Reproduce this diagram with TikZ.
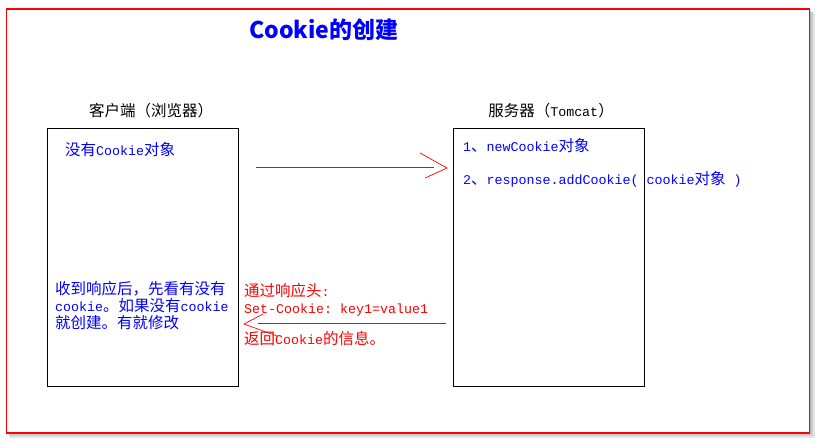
\documentclass[tikz,border=0pt]{standalone}
\usepackage{fontspec}
\setmainfont{Liberation Mono}
\newfontfamily\cjk{Noto Sans CJK SC}
\newcommand{\zh}[1]{{\fontsize{15.5pt}{17pt}\cjk #1}}
\definecolor{pblue}{HTML}{0000FF}
\definecolor{pred}{HTML}{FF0000}
\frenchspacing
\begin{document}
\begin{tikzpicture}[x=1pt,y=-1pt,
  txt/.style={inner sep=0pt,font=\fontsize{13.33pt}{17pt}\selectfont\frenchspacing},
  bluetxt/.style={txt,text=pblue},
  redtxt/.style={txt,text=pred},
  lbl/.style={inner sep=0pt,font=\fontsize{13.33pt}{17pt}\selectfont,text=black},
  boxstyle/.style={draw=black,line width=1pt,minimum width=191pt,minimum height=258pt,inner sep=0pt},
  redline/.style={draw=pred,line width=0.9pt},
  barb/.style={draw=pred,line width=0.7pt}]
% canvas
\useasboundingbox (0,0) rectangle (819,442);
\fill[white] (0,0) rectangle (819,442);
% shadow
\fill[gray!20] (10,13) rectangle (815,438);
\fill[gray!40] (9,12) rectangle (813,436);
\fill[gray!60] (8,11) rectangle (811,434);
% frame
\node[draw=pred,fill=white,line width=1.5pt,minimum width=803pt,minimum height=424pt,inner sep=0pt] (frame) at (408,221) {};
% title
\node[inner sep=0pt,anchor=west,text=pblue,font=\fontsize{23pt}{26pt}\selectfont\cjk\bfseries] (title) at (249,30) {Cookie的创建};
% column labels
\node[lbl] (clientlbl) at (151,111) {\zh{客户端（浏览器）}};
\node[lbl] (serverlbl) at (551,111) {\zh{服务器（}Tomcat\zh{）}};
% boxes
\node[boxstyle] (client) at (142.5,257.5) {};
\node[boxstyle] (server) at (548.5,257) {};
% client texts
\node[bluetxt,anchor=west] (nocookie) at (65,150) {\zh{没有}Cookie\zh{对象}};
\node[bluetxt,anchor=north west,align=left] (received) at (55,281.5) {\zh{收到响应后，先看有没有}\\cookie\zh{。如果没有}cookie\\\zh{就创建。有就修改}};
% server texts
\node[bluetxt,anchor=west] (step1) at (463,146) {1\zh{、}newCookie\zh{对象}};
\node[bluetxt,anchor=west] (step2) at (463,179) {2\zh{、}response.addCookie( cookie\zh{对象} )};
% response texts
\node[redtxt,anchor=north west,align=left] (header) at (244,283) {\zh{通过响应头}:\\Set-Cookie: key1=value1};
\node[redtxt,anchor=west] (back) at (244,339) {\zh{返回}Cookie\zh{的信息。}};
% request arrow
\coordinate (reqstart) at (256,167);
\coordinate (reqend) at (434,167);
\coordinate (reqtip) at (447,168);
\coordinate (reqw1) at (420,153);
\coordinate (reqw2) at (425,178);
\draw[redline] (reqstart) -- (reqend);
\draw[barb] (reqw1) -- (reqtip) -- (reqw2);
% response arrow
\coordinate (resstart) at (446,323);
\coordinate (resend) at (258,323);
\coordinate (restip) at (244,324);
\coordinate (resw1) at (263,314);
\coordinate (resw2) at (277,336);
\draw[redline,line width=0.7pt] (resstart) -- (resend);
\draw[barb] (resw1) -- (restip) -- (resw2);
\end{tikzpicture}
\end{document}
